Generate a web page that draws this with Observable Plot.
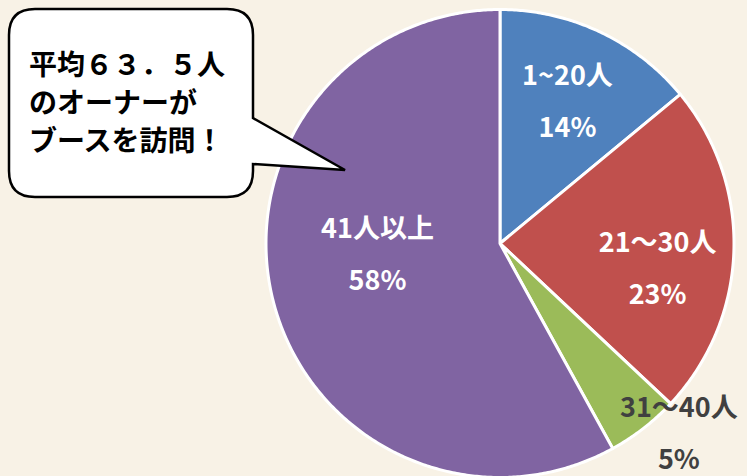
<!DOCTYPE html>
<html>
<head>
<meta charset="utf-8">
<script src="https://cdn.jsdelivr.net/npm/d3@7"></script>
<script src="https://cdn.jsdelivr.net/npm/@observablehq/plot@0.6"></script>
<style>
  html, body { margin: 0; padding: 0; background: #F8F2E6; }
  #wrap { position: relative; width: 747px; height: 476px; overflow: hidden; background: #F8F2E6; }
  #wrap svg { display: block; }
  #bubble { position: absolute; left: 0; top: 0; }
</style>
</head>
<body>
<div id="wrap"></div>
<script>
// ---- data ----
const categories = ["1~20人", "21～30人", "31～40人", "41人以上"];
const shares = [14, 23, 5, 58];               // percent
const sliceColors = ["#4F81BD", "#C0504D", "#9BBB59", "#8064A2"];
const labelColors = ["#FFFFFF", "#FFFFFF", "#404040", "#FFFFFF"];
const labelRadius = [0.66, 0.684, 1.125, 0.527];   // fraction of pie radius
const labelAngleShift = [0.7, 8.2, -5.0, 7.9];      // degrees, best-fit adjustment
const bubbleLines = ["平均６３．５人", "のオーナーが", "ブースを訪問！"];

// ---- build slice polygons from the shares ----
const total = d3.sum(shares);
let acc = 0;
const slices = categories.map((c, i) => {
  const a0 = acc / total * 2 * Math.PI;
  acc += shares[i];
  const a1 = acc / total * 2 * Math.PI;
  const n = Math.max(2, Math.ceil((a1 - a0) / (Math.PI / 360)));
  const pts = [{x: 0, y: 0}];
  for (let k = 0; k <= n; k++) {
    const a = a0 + (a1 - a0) * k / n;
    pts.push({x: Math.sin(a), y: Math.cos(a)});
  }
  const mid = (a0 + a1) / 2 + labelAngleShift[i] * Math.PI / 180;
  return {
    cat: c, pts, color: sliceColors[i],
    label: `${c}\n${shares[i]}%`,
    lx: labelRadius[i] * Math.sin(mid),
    ly: labelRadius[i] * Math.cos(mid),
    lcolor: labelColors[i]
  };
});

const cx = 499.5, cy = 243, R = 234;

const plot = Plot.plot({
  width: 747,
  height: 476,
  margin: 0,
  style: {background: "transparent", fontFamily: "'Noto Sans CJK JP', 'Noto Sans', sans-serif", overflow: "visible"},
  x: {domain: [-1, 1], range: [cx - R, cx + R], axis: null},
  y: {domain: [-1, 1], range: [cy + R, cy - R], axis: null},
  marks: [
    ...slices.map(s => Plot.line(s.pts, {
      x: "x", y: "y", curve: "linear-closed",
      fill: s.color, stroke: "white", strokeWidth: 3, strokeLinejoin: "round"
    })),
    ...slices.map(s => Plot.text([s], {
      x: "lx", y: "ly", text: "label", dy: -10,
      fill: s.lcolor, fontSize: 27, fontWeight: "bold", lineHeight: 52 / 27,
      textAnchor: "middle"
    }))
  ]
});
document.getElementById("wrap").appendChild(plot);

// ---- speech bubble annotation ----
const ns = "http://www.w3.org/2000/svg";
const b = document.createElementNS(ns, "svg");
b.setAttribute("id", "bubble");
b.setAttribute("width", "747");
b.setAttribute("height", "476");
const L = 9, T = 9, Rr = 253, B = 197, rad = 26;
const path = document.createElementNS(ns, "path");
path.setAttribute("d",
  `M${L + rad},${T} H${Rr - rad} Q${Rr},${T} ${Rr},${T + rad} V118 L345,170 L${Rr},164 V${B - rad} Q${Rr},${B} ${Rr - rad},${B} H${L + rad} Q${L},${B} ${L},${B - rad} V${T + rad} Q${L},${T} ${L + rad},${T} Z`);
path.setAttribute("fill", "white");
path.setAttribute("stroke", "black");
path.setAttribute("stroke-width", "2.5");
path.setAttribute("stroke-linejoin", "miter");
b.appendChild(path);
bubbleLines.forEach((t, i) => {
  const tx = document.createElementNS(ns, "text");
  tx.setAttribute("x", 29);
  tx.setAttribute("y", 63 + i * 38);
  tx.setAttribute("dominant-baseline", "central");
  tx.setAttribute("font-family", "'Noto Sans CJK JP', sans-serif");
  tx.setAttribute("font-weight", "bold");
  tx.setAttribute("font-size", "28");
  tx.setAttribute("fill", "#000");
  tx.textContent = t;
  b.appendChild(tx);
});
document.getElementById("wrap").appendChild(b);
</script>
</body>
</html>
